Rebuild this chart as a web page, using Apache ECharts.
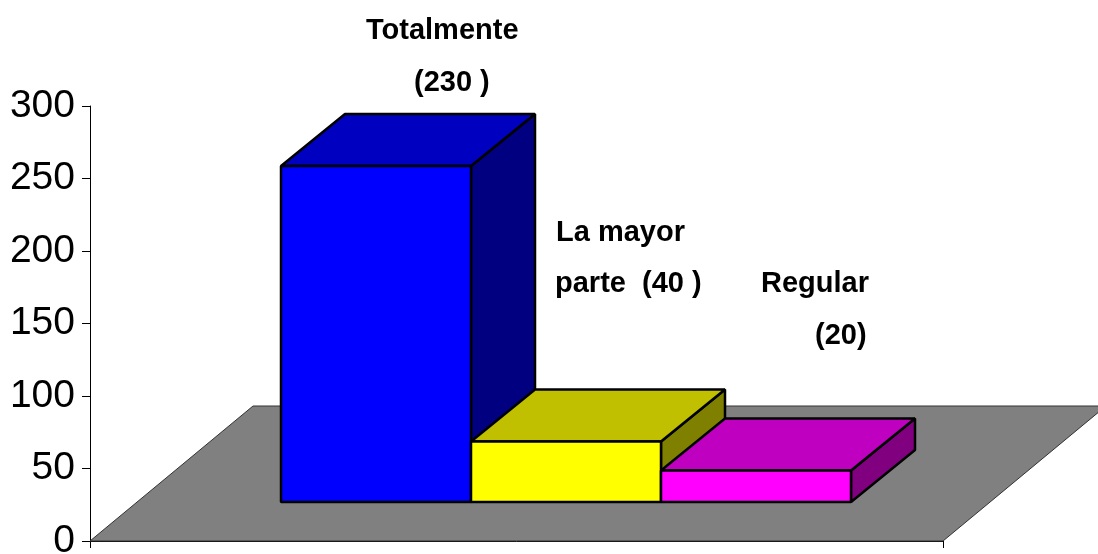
<!DOCTYPE html>
<html>
<head>
<meta charset="utf-8">
<script src="https://cdn.jsdelivr.net/npm/echarts@6/dist/echarts.min.js"></script>
<style>
  html, body { margin: 0; padding: 0; background: #fff; }
  #target { width: 1098px; height: 554px; }
</style>
</head>
<body>
<div id="target"></div>
<script>
const categories = ["Totalmente", "La mayor parte", "Regular"];
const values = [230, 40, 20];
const yTicks = [0, 50, 100, 150, 200, 250, 300];
const labelLines = ["Totalmente", "(230 )", "La mayor", "parte  (40 )", "Regular", "(20)"];

// front, top, side of each box
const frontColors = ["#0000ff", "#ffff00", "#ff00ff"];
const topColors = ["#0000c0", "#c0c000", "#c000c0"];
const sideColors = ["#000080", "#808000", "#800080"];

const FONT = '"Liberation Sans", Arial, sans-serif';
const floorDepth = [163, -135];
const barDepth = [64, -52];
const barLift = 41.5; // zero plane of the boxes sits up the floor
const barSink = 2.5;

const myChart = echarts.init(document.getElementById("target"), null, { renderer: "canvas" });

// floor parallelogram, taken from the visible axes
const renderFloor = (params, api) => {
  const p = api.coord([0, 0]);
  const w = api.size([1, 0])[0];
  const x0 = p[0] - w / 2;
  const x1 = p[0] + w / 2;
  return {
    type: "polygon",
    shape: {
      points: [
        [x0, p[1]],
        [x1, p[1]],
        [x1 + floorDepth[0], p[1] + floorDepth[1]],
        [x0 + floorDepth[0], p[1] + floorDepth[1]],
      ],
    },
    style: { fill: "#808080", stroke: "#333", lineWidth: 1 },
  };
};

const box = (points, fill) => ({
  type: "polygon",
  shape: { points },
  style: { fill, stroke: "#000", lineWidth: 2.5, lineJoin: "bevel" },
});

const renderBox = (params, api) => {
  const i = api.value(0);
  const top = api.coord([i, api.value(1)]);
  const w = api.size([1, 0])[0];
  const zero = api.coord([i, 0]);
  const x0 = top[0] - w / 2;
  const x1 = top[0] + w / 2;
  const yTop = top[1] - barLift;
  const yBase = zero[1] - barLift + barSink;
  const dx = barDepth[0];
  const dy = barDepth[1];
  return {
    type: "group",
    children: [
      box([[x1, yTop], [x1 + dx, yTop + dy], [x1 + dx, yBase + dy], [x1, yBase]], sideColors[i]),
      box([[x0, yTop], [x0 + dx, yTop + dy], [x1 + dx, yTop + dy], [x1, yTop]], topColors[i]),
      box([[x0, yTop], [x1, yTop], [x1, yBase], [x0, yBase]], frontColors[i]),
    ],
  };
};

const labelText = (text, x, y) => ({
  type: "text",
  x,
  y,
  style: { text, fill: "#000", font: "bold 29px " + FONT, textVerticalAlign: "middle" },
});

const options = {
  animation: false,
  backgroundColor: "#fff",
  grid: [
    { left: 90, top: 106, width: 853, height: 435, outerBoundsMode: "none" }, // axes and floor
    { left: 281, top: 106, width: 570, height: 435, outerBoundsMode: "none" }, // boxes
  ],
  xAxis: [
    {
      type: "category",
      gridIndex: 0,
      data: [""],
      axisLine: { lineStyle: { color: "#000", width: 1 } },
      axisTick: { show: true, length: 7, lineStyle: { color: "#000" } },
      axisLabel: { show: false },
    },
    { type: "category", gridIndex: 1, data: categories, show: false },
  ],
  yAxis: [
    {
      type: "value",
      gridIndex: 0,
      min: yTicks[0],
      max: yTicks[yTicks.length - 1],
      interval: 50,
      splitLine: { show: false },
      axisLine: { show: true, lineStyle: { color: "#000", width: 1 } },
      axisTick: { show: true, length: 8, lineStyle: { color: "#000" } },
      axisLabel: { margin: 15, color: "#000", fontSize: 39, fontFamily: FONT, padding: [4, 0, 0, 0] },
    },
    { type: "value", gridIndex: 1, min: 0, max: 300, show: false },
  ],
  series: [
    {
      type: "custom",
      xAxisIndex: 0,
      yAxisIndex: 0,
      z: 1,
      silent: true,
      data: [[0, 0]],
      renderItem: renderFloor,
    },
    {
      type: "custom",
      xAxisIndex: 1,
      yAxisIndex: 1,
      z: 3,
      encode: { x: 0, y: 1 },
      data: values.map((v, i) => [i, v]),
      renderItem: renderBox,
    },
  ],
  graphic: [
    labelText(labelLines[0], 366, 31),
    labelText(labelLines[1], 414, 83),
    labelText(labelLines[2], 556, 233),
    labelText(labelLines[3], 555, 284),
    labelText(labelLines[4], 761, 284),
    labelText(labelLines[5], 815, 336),
  ],
};

myChart.setOption(options);
</script>
</body>
</html>
